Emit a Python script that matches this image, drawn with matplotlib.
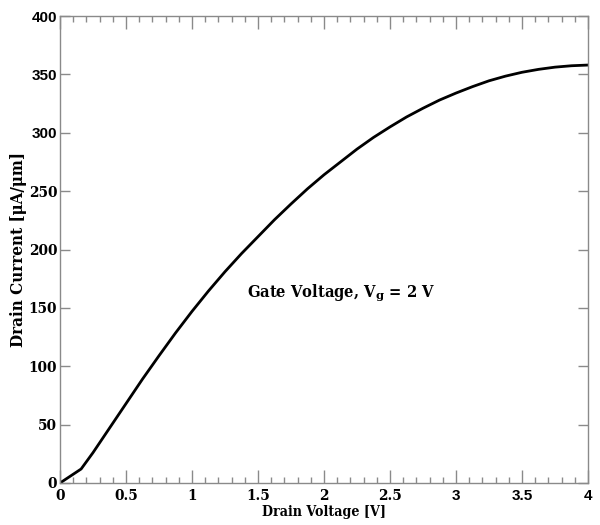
import matplotlib
matplotlib.use("Agg")
import matplotlib.pyplot as plt
from matplotlib.ticker import MultipleLocator

plt.rcParams['mathtext.fontset'] = 'dejavuserif'

drain_voltage = [0.0, 0.16, 0.25, 0.375, 0.5, 0.625, 0.75, 0.875, 1.0, 1.125,
                 1.25, 1.375, 1.5, 1.625, 1.75, 1.875, 2.0, 2.125, 2.25, 2.375,
                 2.5, 2.625, 2.75, 2.875, 3.0, 3.125, 3.25, 3.375, 3.5, 3.625,
                 3.75, 3.875, 4.0]
drain_current = [0, 12, 26, 47, 68, 89, 109, 128.5, 147, 164.5,
                 181, 196.5, 211, 225.5, 239, 252, 264, 275, 286, 296,
                 305, 313.5, 321, 328, 334, 339.5, 344.5, 348.5, 351.8, 354.3,
                 356.2, 357.4, 358]

x_ticks = [0, 0.5, 1, 1.5, 2, 2.5, 3, 3.5, 4]
x_tick_labels = ['0', '0.5', '1', '1.5', '2', '2.5', '3', '3.5', '4']
y_ticks = [0, 50, 100, 150, 200, 250, 300, 350, 400]
y_tick_labels = ['0', '50', '100', '150', '200', '250', '300', '350', '400']
sans_x = {'3', '3.5', '4'}
sans_y = {'300', '350', '400'}

fig = plt.figure(figsize=(6, 5.25), dpi=100)
ax = fig.add_axes([0.1, 0.08, 0.88, 0.8895])

ax.plot(drain_voltage, drain_current, color='black', lw=2.0,
        solid_joinstyle='round')

ax.set_xlim(0, 4)
ax.set_ylim(0, 400)
ax.set_xticks(x_ticks)
ax.set_xticklabels(x_tick_labels)
ax.set_yticks(y_ticks)
ax.set_yticklabels(y_tick_labels)
ax.xaxis.set_minor_locator(MultipleLocator(0.1))

gray = '#8a8a8a'
for s in ax.spines.values():
    s.set_color(gray)
    s.set_linewidth(1.0)

ax.tick_params(axis='x', which='major', direction='in', length=9.5, width=1,
               color=gray, top=True, pad=4)
ax.tick_params(axis='x', which='minor', direction='in', length=4.5, width=1,
               color=gray, top=True)
ax.tick_params(axis='y', which='major', direction='in', length=7, width=1,
               color=gray, right=True, pad=2)

ax.set_xlabel('Drain Voltage [V]', fontfamily='DejaVu Serif', fontweight='bold',
              fontsize=10.2, labelpad=2, fontstretch='condensed')
ax.set_ylabel('Drain Current [μA/μm]', fontfamily='DejaVu Serif', fontweight='bold',
              fontsize=12.2, labelpad=1, fontstretch='condensed')

ax.text(1.42, 163, 'Gate Voltage, V$_{\\mathbf{g}}$ = 2 V', fontfamily='DejaVu Serif',
        fontweight='bold', fontsize=11.8, ha='left', va='center', fontstretch='condensed')

fig.canvas.draw()
for lab in ax.get_xticklabels():
    lab.set_fontweight('bold')
    lab.set_fontsize(11)
    if lab.get_text() in sans_x:
        lab.set_fontfamily('Liberation Sans')
    else:
        lab.set_fontfamily('DejaVu Serif')
        lab.set_fontstretch('condensed')
for lab in ax.get_yticklabels():
    lab.set_fontweight('bold')
    lab.set_fontsize(11)
    if lab.get_text() in sans_y:
        lab.set_fontfamily('Liberation Sans')
    else:
        lab.set_fontfamily('DejaVu Serif')
        lab.set_fontstretch('condensed')

fig.savefig('out.png', dpi=100)
